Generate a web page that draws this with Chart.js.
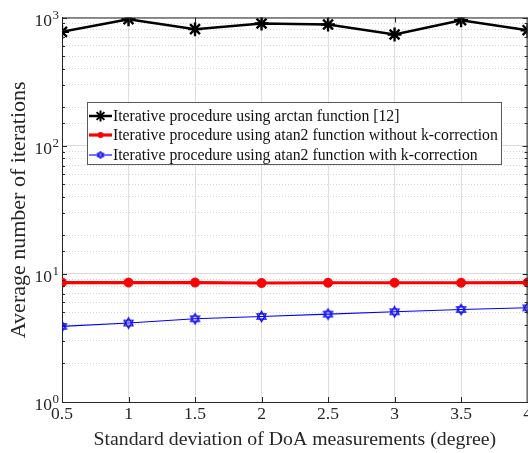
<!DOCTYPE html>
<html><head><meta charset="utf-8">
<script src="https://cdn.jsdelivr.net/npm/chart.js@4.4.0/dist/chart.umd.min.js"></script>
<style>
html,body{margin:0;padding:0;overflow:hidden;background:#fff;width:528px;height:453px}
#wrap{position:absolute;left:0;top:0;width:537px;height:453px}
#legend{position:absolute;left:87px;top:102px;width:413px;height:61px;border:1px solid #5a5a5a;background:#fff;font-family:'Liberation Serif',serif;font-size:15.75px;color:#111}
.row{position:absolute;left:0;height:20px;display:flex;align-items:center;white-space:nowrap}
.row canvas{margin-left:1px;margin-right:1px}
</style></head><body>
<div id="wrap"><canvas id="c"></canvas></div>
<div id="legend"></div>
<script>
// ---- data ----
const xValues = [0.5, 1, 1.5, 2, 2.5, 3, 3.5, 4];
const arctanIter = [773, 970, 811, 898, 882, 737, 953, 796];
const atan2NoKIter = [8.55, 8.55, 8.55, 8.48, 8.52, 8.52, 8.52, 8.55];
const atan2WithKIter = [3.89, 4.13, 4.46, 4.65, 4.85, 5.06, 5.27, 5.43];
const seriesLabels = [
  'Iterative procedure using arctan function [12]',
  'Iterative procedure using atan2 function without k-correction',
  'Iterative procedure using atan2 function with k-correction'
];
const xTickLabels = ['0.5', '1', '1.5', '2', '2.5', '3', '3.5', '4'];
const yTickBase = '10';
const xTitle = 'Standard deviation of DoA measurements (degree)';
const yTitle = 'Average number of iterations';

const FONT = "'Liberation Serif', 'Times New Roman', serif";
const AX = '#262626';

function hexagram(color, r, lw) {
  const s = Math.ceil(r * 2 + lw * 2 + 2);
  const cv = document.createElement('canvas');
  cv.width = s; cv.height = s;
  const g = cv.getContext('2d');
  g.strokeStyle = color; g.lineWidth = lw;
  const c = s / 2;
  [[-90, 30, 150], [90, 210, 330]].forEach(angs => {
    g.beginPath();
    angs.forEach((a, i) => {
      const t = a * Math.PI / 180;
      const px = c + r * Math.cos(t), py = c + r * Math.sin(t);
      if (i === 0) g.moveTo(px, py); else g.lineTo(px, py);
    });
    g.closePath(); g.stroke();
  });
  return cv;
}
const hexImg = hexagram('#0000ff', 5.2, 1.2);

const isMajor = v => Math.abs(Math.log10(v) - Math.round(Math.log10(v))) < 1e-9;
const Y_PAD = 4, Y_TICKLEN = 6;

const frame = {
  id: 'frame',
  afterDraw(chart) {
    const {ctx, chartArea: a, scales} = chart;
    ctx.save();
    ctx.strokeStyle = AX; ctx.lineWidth = 1;
    ctx.beginPath();
    ctx.moveTo(a.left, a.top + 0.5); ctx.lineTo(a.right, a.top + 0.5);
    ctx.moveTo(a.right - 0.5, a.top); ctx.lineTo(a.right - 0.5, a.bottom);
    // inward ticks
    scales.y.ticks.forEach(t => {
      const y = Math.round(scales.y.getPixelForValue(t.value)) + 0.5;
      const L = isMajor(t.value) ? 5 : 3;
      ctx.moveTo(a.left, y); ctx.lineTo(a.left + L, y);
      ctx.moveTo(a.right, y); ctx.lineTo(a.right - L, y);
    });
    scales.x.ticks.forEach(t => {
      const x = Math.round(scales.x.getPixelForValue(t.value)) + 0.5;
      ctx.moveTo(x, a.bottom); ctx.lineTo(x, a.bottom - 5);
      ctx.moveTo(x, a.top); ctx.lineTo(x, a.top + 5);
    });
    ctx.stroke();
    // exponents of the y tick labels (10^n)
    ctx.fillStyle = AX;
    ctx.font = "13px " + FONT;
    ctx.textAlign = 'left';
    ctx.textBaseline = 'alphabetic';
    scales.y.ticks.forEach(t => {
      if (!isMajor(t.value)) return;
      const y = scales.y.getPixelForValue(t.value);
      ctx.fillText(String(Math.round(Math.log10(t.value))), scales.y.right - Y_PAD - Y_TICKLEN + 0.5, y + 1);
    });
    ctx.restore();
  }
};

const datasets = [
  {label: seriesLabels[0], data: xValues.map((x, i) => ({x, y: arctanIter[i]})),
   borderColor: '#000', backgroundColor: '#000', borderWidth: 2.5,
   pointStyle: 'star', pointRadius: 7, pointBorderWidth: 2.4, pointBorderColor: '#000'},
  {label: seriesLabels[1], data: xValues.map((x, i) => ({x, y: atan2NoKIter[i]})),
   borderColor: '#ff0000', backgroundColor: '#ff0000', borderWidth: 3.2,
   pointStyle: 'circle', pointRadius: 4.5, pointBorderWidth: 1},
  {label: seriesLabels[2], data: xValues.map((x, i) => ({x, y: atan2WithKIter[i]})),
   borderColor: '#0000ff', backgroundColor: '#0000ff', borderWidth: 1.1,
   pointStyle: hexImg, pointRadius: 6}
];

new Chart(document.getElementById('c'), {
  type: 'line',
  data: {datasets},
  plugins: [frame],
  options: {
    responsive: true, maintainAspectRatio: false, animation: false,
    layout: {padding: {top: 17.5, right: 0, left: 0, bottom: 0}},
    plugins: {legend: {display: false}, tooltip: {enabled: false}},
    scales: {
      x: {
        type: 'linear', min: 0.5, max: 4,
        afterFit: s => { s.height = 51; },
        afterBuildTicks: s => { s.ticks = xValues.map(v => ({value: v})); },
        ticks: {
          callback: (v) => { const i = xValues.indexOf(v); return i >= 0 ? xTickLabels[i] : ''; },
          font: {family: FONT, size: 17.5}, color: AX, padding: 2, maxRotation: 0, autoSkip: false
        },
        grid: {color: '#dedede', lineWidth: 1, drawTicks: false},
        border: {color: AX, width: 1},
        title: {display: true, text: xTitle, font: {family: FONT, size: 19.8}, color: AX, padding: {top: 0, bottom: 1}}
      },
      y: {
        type: 'logarithmic', min: 1, max: 1000,
        afterFit: s => { s.width = 62; },
        ticks: {
          autoSkip: false,
          callback: (v) => isMajor(v) ? yTickBase : '',
          font: {family: FONT, size: 17.5}, color: AX, padding: Y_PAD, labelOffset: 3.5
        },
        grid: {
          color: c => (c.tick && isMajor(c.tick.value)) ? '#dcdcdc' : '#d4d4d4',
          lineWidth: 1, drawTicks: true, tickLength: Y_TICKLEN, tickColor: 'rgba(0,0,0,0)'
        },
        border: {color: AX, width: 1, dash: c => (c.tick && !isMajor(c.tick.value)) ? [1, 2] : []},
        title: {display: true, text: yTitle, font: {family: FONT, size: 22}, color: AX, padding: {top: 6, bottom: 0}}
      }
    }
  }
});

// HTML legend built from dataset definitions
const leg = document.getElementById('legend');
const rowTops = [3, 22, 42];
datasets.forEach((d, i) => {
  const row = document.createElement('div');
  row.className = 'row'; row.style.top = rowTops[i] + 'px';
  const cv = document.createElement('canvas');
  cv.width = 23; cv.height = 20;
  const g = cv.getContext('2d');
  g.strokeStyle = d.borderColor; g.lineWidth = d.borderWidth;
  g.beginPath(); g.moveTo(0, 10); g.lineTo(23, 10); g.stroke();
  const cx = 11.5, cy = 10;
  if (d.pointStyle === 'star') {
    g.lineWidth = 2; g.beginPath();
    for (let k = 0; k < 4; k++) {
      const t = k * Math.PI / 4, r = 5.5;
      g.moveTo(cx - r * Math.cos(t), cy - r * Math.sin(t));
      g.lineTo(cx + r * Math.cos(t), cy + r * Math.sin(t));
    }
    g.stroke();
  } else if (d.pointStyle === 'circle') {
    g.fillStyle = d.backgroundColor; g.beginPath(); g.arc(cx, cy, 3, 0, Math.PI * 2); g.fill();
  } else {
    const img = hexagram(d.borderColor, 3.8, 1);
    g.drawImage(img, cx - img.width / 2, cy - img.height / 2);
  }
  row.appendChild(cv);
  const sp = document.createElement('span');
  sp.textContent = d.label;
  row.appendChild(sp);
  leg.appendChild(row);
});
</script></body></html>
